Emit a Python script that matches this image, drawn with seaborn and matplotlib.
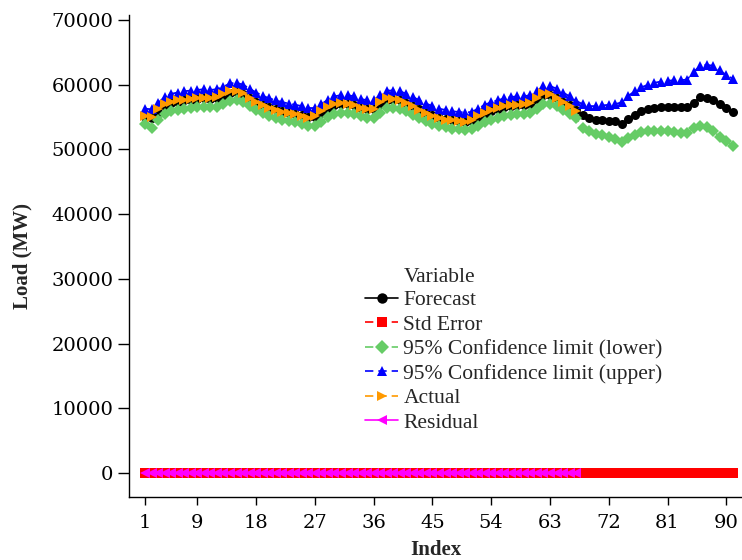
import numpy as np
import pandas as pd
import seaborn as sns
from matplotlib import pyplot as plt

# values (Load in MW, by index)
actual = [55200, 55000, 56300, 57000, 57400, 57600, 57700, 57800, 57900, 58000,
          57900, 58100, 58600, 59000, 59000, 58700, 58000, 57300, 56800, 56400,
          56100, 55800, 55600, 55500, 55200, 54900, 55100, 55900, 56600, 57000,
          57200, 57100, 56800, 56400, 56200, 56300, 57300, 57900, 57800, 57700,
          57200, 56700, 56100, 55600, 55200, 54800, 54600, 54500, 54400, 54300,
          54600, 55200, 55700, 56100, 56400, 56700, 56900, 56900, 57000, 57200,
          58000, 58700, 58500, 58000, 57300, 56700, 56000]

forecast = [55000, 54900, 55800, 56700, 57200, 57400, 57600, 57700, 57800, 57900,
            57800, 57900, 58300, 58800, 58900, 58600, 58000, 57400, 56900, 56500,
            56200, 55900, 55700, 55500, 55300, 55000, 55000, 55600, 56300, 56800,
            57000, 57000, 56800, 56400, 56200, 56200, 57000, 57700, 57700, 57600,
            57200, 56700, 56200, 55700, 55300, 54900, 54700, 54500, 54400, 54300,
            54400, 54900, 55500, 55900, 56200, 56500, 56700, 56800, 56800, 57000,
            57600, 58400, 58400, 58000, 57400, 56800, 56100,
            55300, 54900, 54600, 54500, 54400, 54400, 54000, 54700, 55400, 55900,
            56300, 56400, 56500, 56600, 56600, 56500, 56500, 57200, 58100, 58000,
            57600, 57000, 56400, 55800]

upper = [56300, 56200, 57200, 58100, 58600, 58800, 59000, 59100, 59200, 59300,
         59200, 59300, 59700, 60200, 60300, 60000, 59400, 58800, 58300, 57900,
         57600, 57300, 57100, 56900, 56700, 56400, 56400, 57000, 57700, 58200,
         58400, 58400, 58200, 57800, 57600, 57600, 58400, 59100, 59100, 59000,
         58600, 58100, 57600, 57100, 56700, 56300, 56100, 55900, 55800, 55700,
         55800, 56300, 56900, 57300, 57600, 57900, 58100, 58200, 58200, 58400,
         59000, 59800, 59800, 59400, 58800, 58200, 57500,
         57000, 56700, 56700, 56800, 56900, 57000, 57300, 58300, 59000, 59600,
         60000, 60300, 60500, 60600, 60700, 60700, 60800, 62000, 62900, 63100,
         62900, 62200, 61500, 60900]

lower = [53900, 53300, 54500, 55500, 55900, 56100, 56300, 56400, 56500, 56600,
         56500, 56600, 57000, 57500, 57600, 57300, 56700, 56100, 55600, 55200,
         54900, 54600, 54400, 54200, 54000, 53700, 53700, 54300, 55000, 55500,
         55700, 55700, 55500, 55100, 54900, 54900, 55700, 56400, 56400, 56300,
         55900, 55400, 54900, 54400, 54000, 53600, 53400, 53200, 53100, 53000,
         53100, 53600, 54200, 54600, 54900, 55200, 55400, 55500, 55500, 55700,
         56300, 57100, 57100, 56700, 56100, 55500, 54800,
         53300, 52800, 52400, 52200, 52000, 51600, 51200, 51700, 52300, 52700,
         52900, 52900, 52800, 52800, 52700, 52500, 52600, 53300, 53600, 53400,
         52800, 52000, 51300, 50600]

std_error = [40, 40, 40, 40, 40, 40, 40, 40, 40, 40,
             40, 40, 40, 40, 40, 40, 40, 40, 40, 40,
             40, 40, 40, 40, 40, 40, 40, 40, 40, 40,
             40, 40, 40, 40, 40, 40, 40, 40, 40, 40,
             40, 40, 40, 40, 40, 40, 40, 40, 40, 40,
             40, 40, 40, 40, 40, 40, 40, 40, 40, 40,
             40, 40, 40, 40, 40, 40, 40,
             50, 50, 50, 50, 50, 50, 50, 50, 50, 50,
             50, 50, 50, 50, 50, 50, 50, 50, 50, 50,
             50, 50, 50, 50]

residual = [20, 10, 50, 30, 20, 20, 10, 10, 10, 10,
            10, 20, 30, 20, 10, 10, 0, -10, -10, -10,
            -10, -10, -10, 0, -10, -10, 10, 30, 30, 20,
            20, 10, 0, 0, 0, 10, 30, 20, 10, 10,
            0, 0, -10, -10, -10, -10, -10, 0, 0, 0,
            20, 30, 20, 20, 20, 20, 20, 10, 20, 20,
            40, 30, 10, 0, -10, -10, -10]

series_names = ["Forecast", "Std Error", "95% Confidence limit (lower)",
                "95% Confidence limit (upper)", "Actual", "Residual"]
series_values = [forecast, std_error, lower, upper, actual, residual]
x_ticks = [1, 9, 18, 27, 36, 45, 54, 63, 72, 81, 90]
y_ticks = [0, 10000, 20000, 30000, 40000, 50000, 60000, 70000]

# long table for seaborn
frames = []
for name, vals in zip(series_names, series_values):
    frames.append(pd.DataFrame({"Index": np.arange(1, len(vals) + 1),
                                "Load": vals, "Variable": name}))
df = pd.concat(frames, ignore_index=True)

palette = {"Forecast": "black", "Std Error": "#FF0000",
           "95% Confidence limit (lower)": "#66CC66",
           "95% Confidence limit (upper)": "#0000FF",
           "Actual": "#FF9900", "Residual": "#FF00FF"}
markers = {"Forecast": "o", "Std Error": "s",
           "95% Confidence limit (lower)": "D",
           "95% Confidence limit (upper)": "^",
           "Actual": ">", "Residual": "<"}
dashes = {"Forecast": "", "Std Error": (5, 3),
          "95% Confidence limit (lower)": (5, 3),
          "95% Confidence limit (upper)": (5, 3),
          "Actual": (5, 3), "Residual": ""}

sns.set_theme(style="ticks")
plt.rcParams["font.family"] = ["DejaVu Serif"]

fig = plt.figure(figsize=(7.42, 5.6), dpi=100)
ax = fig.add_axes([0.174, 0.1125, 0.826, 0.861])

sns.lineplot(data=df, x="Index", y="Load", hue="Variable", style="Variable",
             hue_order=series_names, style_order=series_names,
             palette=palette, markers=markers, dashes=dashes,
             markersize=6.5, markeredgewidth=0, linewidth=1.3, ax=ax)

ax.set_xlim(-1.45, 92.4)
ax.set_ylim(-3700, 70800)
ax.set_xticks(x_ticks)
ax.set_yticks(y_ticks)
ax.tick_params(axis="both", direction="out", width=1, labelsize=14,
               colors="black")
ax.tick_params(axis="y", length=8, pad=3.5)
ax.tick_params(axis="x", length=6, pad=6)
for s in ["top", "right"]:
    ax.spines[s].set_visible(False)
for s in ["left", "bottom"]:
    ax.spines[s].set_color("black")
    ax.spines[s].set_linewidth(1)

label_font = {"family": "Liberation Serif", "weight": "bold", "size": 15}
ax.set_ylabel("Load (MW)", fontdict=label_font)
ax.set_xlabel("Index", fontdict=label_font)
ax.yaxis.set_label_coords(-0.158, 0.5)
ax.xaxis.set_label_coords(0.5, -0.089)

# rebuild the legend without frame, title added as text aligned with labels
old = ax.get_legend()
handles = old.legend_handles
labels = [t.get_text() for t in old.get_texts()]
old.remove()
for h in handles:
    h.set_markersize(7.5)
    h.set_linewidth(1.2)
    h.set_markeredgewidth(0)
leg = ax.legend(handles, labels, loc="upper left",
                bbox_to_anchor=(365 / 742, 1 - 290 / 560),
                bbox_transform=fig.transFigure, frameon=False,
                prop={"family": "Liberation Serif", "size": 15.5},
                handlelength=1.55, handletextpad=0.23, labelspacing=0.21,
                borderpad=0, borderaxespad=0)

fig.canvas.draw()
bb = leg.get_texts()[0].get_window_extent()
fig.text(bb.x0 / fig.bbox.width, 1 - 277 / 560, "Variable",
         ha="left", va="center", family="Liberation Serif", fontsize=15.5)

fig.savefig("out.png", dpi=100)
